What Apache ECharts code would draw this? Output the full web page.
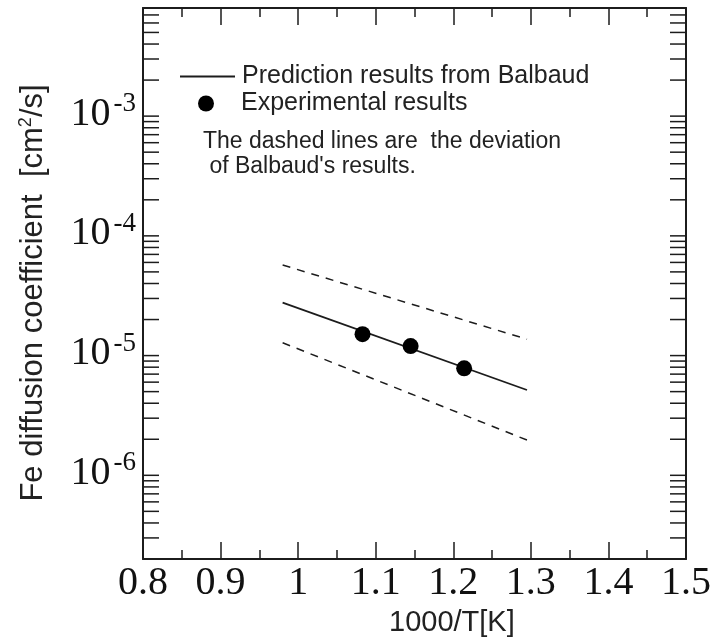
<!DOCTYPE html>
<html>
<head>
<meta charset="utf-8">
<script src="https://cdn.jsdelivr.net/npm/echarts@6/dist/echarts.min.js"></script>
<style>
  html, body { margin: 0; padding: 0; background: #fff; }
  #chart { width: 714px; height: 644px; }
</style>
</head>
<body>
<div id="chart"></div>
<script>
// ---- data ----
const xMin = 0.8, xMax = 1.5, xStep = 0.1;
const yMin = 2e-7, yMax = 8e-3;
const yLabelExps = [-6, -5, -4, -3];

const predX = [0.98, 1.295];
const predY = [2.77e-5, 5.16e-6];
const upperY = [5.71e-5, 1.37e-5];
const lowerY = [1.28e-5, 1.97e-6];

const expX = [1.083, 1.145, 1.214];
const expY = [1.51e-5, 1.20e-5, 7.83e-6];

const predName = 'Prediction results from Balbaud';
const expName = 'Experimental results';
const noteLines = ['The dashed lines are  the deviation', ' of Balbaud\'s results.'];
const xTitle = '1000/T[K]';

// y tick values: 1..9 x 10^k inside the range
const yTicks = [];
for (let e = -7; e <= -3; e++) {
  for (let m = 1; m <= 9; m++) {
    const v = m * Math.pow(10, e);
    if (v >= yMin * 0.9999 && v <= yMax * 1.0001) yTicks.push(v);
  }
}

const ink = '#1c1c1c';
const serif = '"Liberation Serif", "Times New Roman", serif';
const sans = '"Liberation Sans", Arial, sans-serif';

const chart = echarts.init(document.getElementById('chart'));

function pairs(xs, ys) { return xs.map((x, i) => [x, ys[i]]); }

const xAxisCommon = {
  type: 'value', min: xMin, max: xMax, interval: xStep,
  axisLine: { show: true, onZero: false, lineStyle: { color: ink, width: 2 } },
  axisTick: { show: true, inside: true, length: 17, lineStyle: { color: ink, width: 1.5 } },
  minorTick: { show: true, splitNumber: 2, length: 9, lineStyle: { color: ink, width: 1.5 } },
  splitLine: { show: false }, minorSplitLine: { show: false }
};

const yAxisCommon = {
  type: 'log', logBase: 10, min: yMin, max: yMax,
  axisLine: { show: true, onZero: false, lineStyle: { color: ink, width: 2 } },
  axisTick: { show: false }, minorTick: { show: false },
  splitLine: { show: false }, minorSplitLine: { show: false }
};

const legendText = { fontFamily: sans, fontSize: 25, color: '#222' };

chart.setOption({
  animation: false,
  backgroundColor: '#fff',
  grid: { left: 143, right: 28, top: 8, bottom: 85, containLabel: false },
  xAxis: [
    Object.assign({}, xAxisCommon, {
      position: 'bottom',
      axisLabel: { show: true, margin: 4, color: '#111', fontFamily: serif, fontSize: 40,
        formatter: v => String(+v.toFixed(2)) }
    }),
    Object.assign({}, xAxisCommon, { position: 'top', axisLabel: { show: false } })
  ],
  yAxis: [
    Object.assign({}, yAxisCommon, {
      position: 'left',
      axisLabel: {
        show: true, margin: 7, color: '#111',
        formatter: v => {
          const l = Math.log10(v);
          const e = Math.round(l);
          if (Math.abs(l - e) > 1e-6 || yLabelExps.indexOf(e) < 0) return '';
          return '{b|10}{s|' + e + '}';
        },
        rich: {
          b: { fontFamily: serif, fontSize: 40, color: '#111', padding: [0, 0, 4, 0] },
          s: { fontFamily: serif, fontSize: 27, color: '#111', padding: [0, 0, 24, 3] }
        }
      }
    }),
    Object.assign({}, yAxisCommon, { position: 'right', axisLabel: { show: false } })
  ],
  legend: [
    {
      show: true, left: 180, top: 64, padding: 0,
      itemWidth: 55, itemHeight: 2, icon: 'rect',
      textStyle: Object.assign({ padding: [0, 0, 0, 2] }, legendText),
      data: [predName], selectedMode: false
    },
    {
      show: true, left: 198, top: 91, padding: 0,
      itemWidth: 50, itemHeight: 16, icon: 'circle',
      textStyle: Object.assign({ padding: [0, 0, 0, 5] }, legendText),
      data: [expName], selectedMode: false
    }
  ],
  graphic: [
    {
      type: 'text', left: 203, top: 129,
      style: { text: noteLines.join('\n'), fontFamily: sans, fontSize: 23, lineHeight: 25, fill: '#222' }
    },
    {
      type: 'text', left: 389, top: 608,
      style: { text: xTitle, fontFamily: sans, fontSize: 29, fill: '#222' }
    },
    {
      type: 'text', x: 33, y: 293, rotation: Math.PI / 2,
      style: {
        text: '{t|Fe diffusion coefficient  [cm}{u|2}{t|/s]}',
        align: 'center', verticalAlign: 'middle',
        rich: {
          t: { fontFamily: sans, fontSize: 31, fill: '#222' },
          u: { fontFamily: sans, fontSize: 18, fill: '#222', padding: [0, 0, 14, 0] }
        }
      }
    }
  ],
  series: [
    {
      name: predName, type: 'line', data: pairs(predX, predY),
      symbol: 'none', lineStyle: { color: ink, width: 1.8 }, itemStyle: { color: ink }
    },
    {
      name: 'upper', type: 'line', data: pairs(predX, upperY),
      symbol: 'none', lineStyle: { color: ink, width: 1.5, type: [8, 7] }
    },
    {
      name: 'lower', type: 'line', data: pairs(predX, lowerY),
      symbol: 'none', lineStyle: { color: ink, width: 1.5, type: [8, 7] }
    },
    {
      name: expName, type: 'scatter', data: pairs(expX, expY),
      symbol: 'circle', symbolSize: 16, itemStyle: { color: '#000', opacity: 1 }, z: 5
    },
    {
      name: 'yticks', type: 'custom', clip: false, silent: true,
      data: yTicks.map(v => [xMin, v]),
      encode: { x: 0, y: 1 },
      renderItem: (params, api) => {
        const v = api.value(1);
        const pL = api.coord([xMin, v]);
        const pR = api.coord([xMax, v]);
        const st = { stroke: ink, lineWidth: 1.5 };
        return {
          type: 'group',
          children: [
            { type: 'line', shape: { x1: pL[0], y1: pL[1], x2: pL[0] + 16, y2: pL[1] }, style: st },
            { type: 'line', shape: { x1: pR[0], y1: pR[1], x2: pR[0] - 16, y2: pR[1] }, style: st }
          ]
        };
      }
    }
  ]
});
</script>
</body>
</html>
